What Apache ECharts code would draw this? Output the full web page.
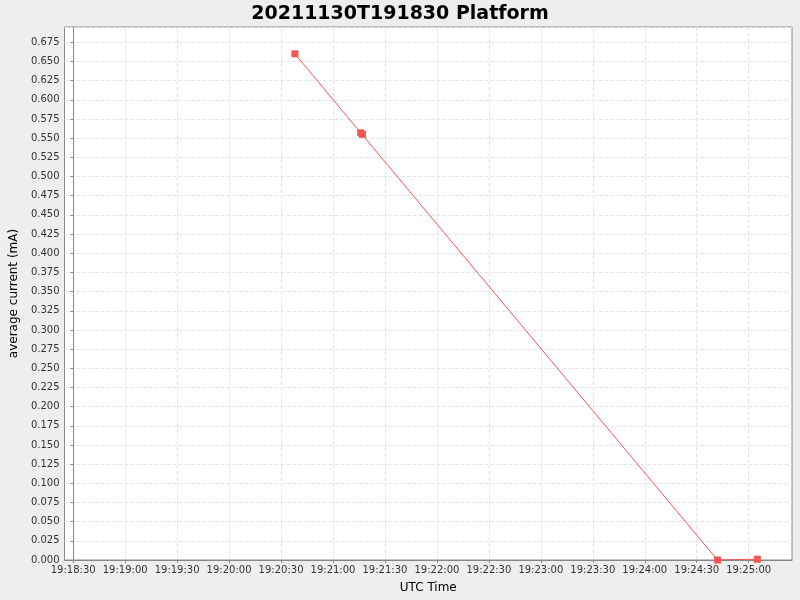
<!DOCTYPE html>
<html><head><meta charset="utf-8">
<script src="https://cdn.jsdelivr.net/npm/echarts@6/dist/echarts.min.js"></script>
<style>html,body{margin:0;background:#eeeeee}#c{width:800px;height:600px}</style>
</head><body><div id="c"></div>
<script>
// seconds after 19:18:30 UTC, 2021-11-30
var times = [128, 166, 167, 372, 395];
var currents = [0.660, 0.557, 0.555, 0.000, 0.001];
var tickSeconds = [0,30,60,90,120,150,180,210,240,270,300,330,360,390];
function fmt(s){var t=18*60+30+s;var m=Math.floor(t/60),ss=t%60;return '19:'+String(m).padStart(2,'0')+':'+String(ss).padStart(2,'0');}
var chart = echarts.init(document.getElementById('c'));
chart.setOption({
  backgroundColor:'#eeeeee',
  animation:false,
  title:{text:'20211130T191830 Platform',left:'center',top:0,textStyle:{fontFamily:'DejaVu Sans',fontSize:19,fontWeight:'bold',color:'#000'}},
  grid:{left:62,right:8,top:27,bottom:40,show:true,backgroundColor:'#fff',borderColor:'#888',borderWidth:1},
  xAxis:{type:'value',min:-5,max:415,name:'UTC Time',nameLocation:'middle',nameGap:22,
    nameTextStyle:{fontFamily:'DejaVu Sans',fontSize:12,color:'#000'},
    axisLine:{lineStyle:{color:'#888'}},
    axisTick:{customValues:tickSeconds,length:3,lineStyle:{color:'#888'}},
    axisLabel:{customValues:tickSeconds,formatter:fmt,fontFamily:'DejaVu Sans',fontSize:10,color:'#333',margin:5},
    splitLine:{show:true,lineStyle:{color:'#e4e4e4',type:'dashed'}}},
  yAxis:{type:'value',min:0,max:0.695,interval:0.025,name:'average current (mA)',nameLocation:'middle',nameGap:40,
    nameTextStyle:{fontFamily:'DejaVu Sans',fontSize:12,color:'#000'},
    axisLine:{show:true,lineStyle:{color:'#888'}},
    axisTick:{show:true,length:3,lineStyle:{color:'#888'}},
    axisLabel:{formatter:function(v){return v.toFixed(3);},showMaxLabel:false,fontFamily:'DejaVu Sans',fontSize:10,color:'#333',margin:5},
    splitLine:{show:true,lineStyle:{color:'#e4e4e4',type:'dashed'}}},
  series:[{type:'line',data:times.map(function(t,i){return [t,currents[i]];}),
    symbol:'rect',symbolSize:7,showAllSymbol:true,
    itemStyle:{color:'#f55555'},lineStyle:{color:'#f55555',width:1}}]
});
</script></body></html>
